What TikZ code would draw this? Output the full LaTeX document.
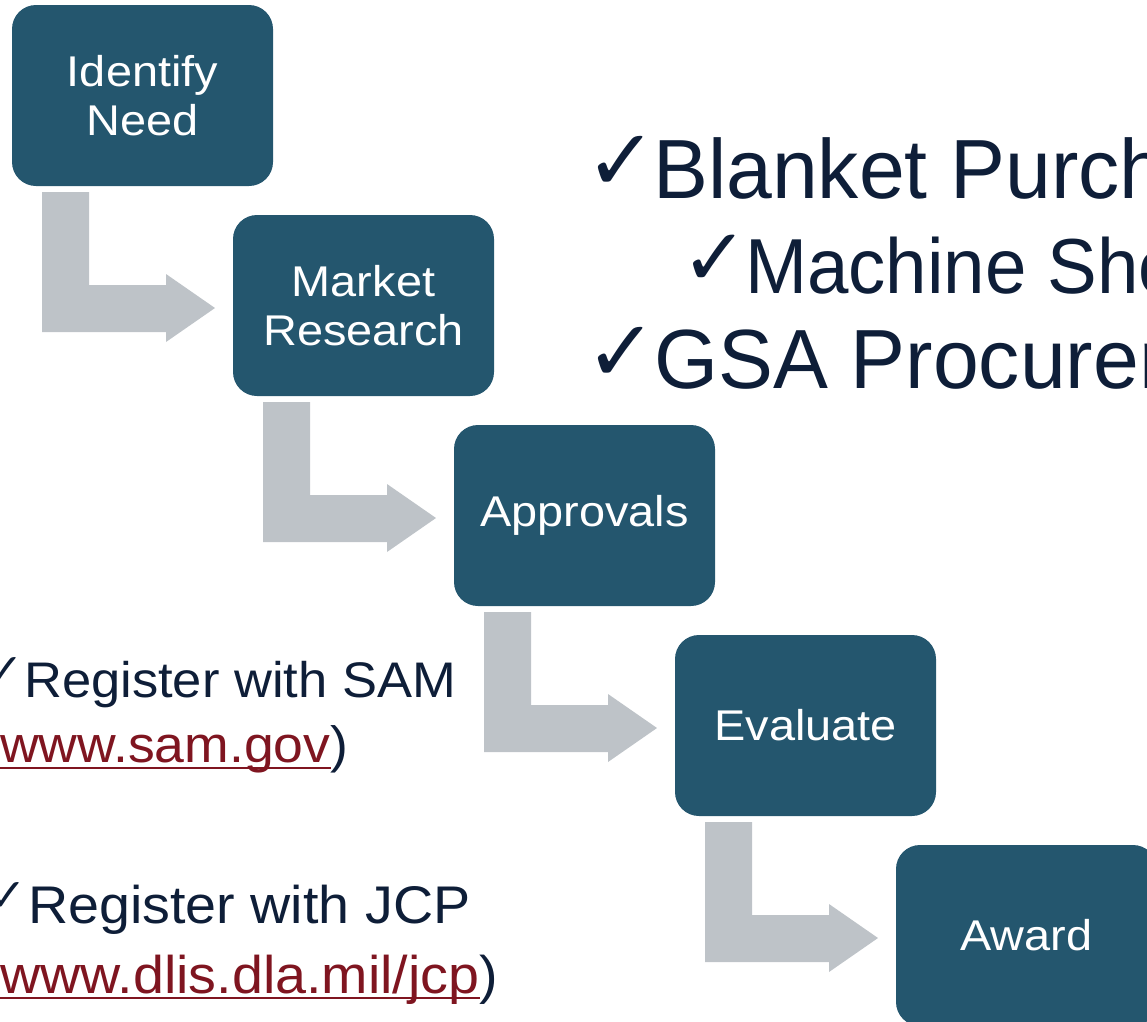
\documentclass[tikz,border=0pt]{standalone}
\usepackage{fontspec}
\setmainfont{Liberation Sans}
\newfontfamily\fBox[FakeStretch=1.09]{Liberation Sans}
\newfontfamily\fBig[FakeStretch=0.98]{Liberation Sans}
\newfontfamily\fMid[FakeStretch=0.955]{Liberation Sans}
\newfontfamily\fLeft[FakeStretch=1.05]{Liberation Sans}
\newfontfamily\fChk{DejaVu Sans}
\usetikzlibrary{calc}
\definecolor{boxblue}{HTML}{24566E}
\definecolor{arrowgray}{HTML}{BEC3C8}
\definecolor{navy}{HTML}{0E1E38}
\definecolor{linkred}{HTML}{7F1520}
\tikzset{
  stepbox/.style={rounded corners=24pt, fill=boxblue, draw=none, minimum width=261pt,
    minimum height=181pt, inner sep=0pt, outer sep=0pt, text=white, align=center,
    font=\fBox\fontsize{43}{49}\selectfont},
  bentarrow/.style={fill=arrowgray, draw=none},
  bigtxt/.style={anchor=base west, inner sep=0pt, text=navy, font=\fBig\fontsize{84}{90}\selectfont},
  midtxt/.style={anchor=base west, inner sep=0pt, text=navy, font=\fMid\fontsize{78}{84}\selectfont},
  bigchk/.style={anchor=base west, inner sep=0pt, text=navy, font=\fChk\bfseries\fontsize{86}{90}\selectfont},
  midchk/.style={anchor=base west, inner sep=0pt, text=navy, font=\fChk\bfseries\fontsize{80}{84}\selectfont},
  smallchk/.style={anchor=base east, inner sep=0pt, text=navy, font=\fChk\fontsize{46}{50}\selectfont},
  samtxt/.style={anchor=base west, inner sep=0pt, text=navy, font=\fLeft\fontsize{50}{56}\selectfont},
  samlink/.style={anchor=base west, inner sep=0pt, text=linkred, font=\fLeft\fontsize{51}{56}\selectfont},
  jcptxt/.style={anchor=base west, inner sep=0pt, text=navy, font=\fLeft\fontsize{53}{58}\selectfont},
  jcplink/.style={anchor=base west, inner sep=0pt, text=linkred, font=\fLeft\fontsize{53}{58}\selectfont},
  ulink/.style={draw=linkred, line width=2.6pt}
}
\begin{document}
\begin{tikzpicture}[x=1pt, y=-1pt]
\useasboundingbox (0,0) rectangle (1147,1021);
\clip (0,0) rectangle (1147,1021);

% process boxes
\node[stepbox] (b1) at (142.5,95.5) {Identify\\Need};
\node[stepbox] (b2) at (363.5,305.5) {Market\\Research};
\node[stepbox] (b3) at (584.5,515.5) {Approvals};
\node[stepbox] (b4) at (805.5,725.5) {Evaluate};
\node[stepbox] (b5) at (1026.5,935.5) {Award};

% bent arrows between boxes
\foreach \a in {1,2,3,4}{
  \fill[bentarrow]
    ($(b\a.south west)+(30,6)$) -- ($(b\a.south west)+(77,6)$) --
    ($(b\a.south west)+(77,99)$) -- ($(b\a.south west)+(154,99)$) --
    ($(b\a.south west)+(154,88)$) -- ($(b\a.south west)+(203,122)$) --
    ($(b\a.south west)+(154,156)$) -- ($(b\a.south west)+(154,146)$) --
    ($(b\a.south west)+(30,146)$) -- cycle;
}

% right bullet list
\node[bigchk] (c1) at (585,190) {✓};
\node[bigtxt] (t1) at (653,198) {Blanket Purchase};
\node[midchk] (c2) at (681,285) {✓};
\node[midtxt] (t2) at (745,293) {Machine Shop};
\node[bigchk] (c3) at (585,381) {✓};
\node[bigtxt] (t3) at (654,388) {GSA Procurement};

% left registration items
\node[smallchk] (c4) at (24,686) {✓};
\node[samtxt] (t4) at (24,697) {Register with SAM};
\node[samlink, text=navy, anchor=base east] (p1) at (0,762) {(};
\node[samlink] (l1) at (0,762) {www.sam.gov};
\node[samlink, text=navy] (q1) at (l1.base east) {)};
\draw[ulink] ($(l1.base west)+(0,6)$) -- ($(l1.base east)+(0,6)$);

\node[smallchk] (c5) at (27,911) {✓};
\node[jcptxt] (t5) at (28,923) {Register with JCP};
\node[jcptxt, anchor=base east] (p2) at (0,993) {(};
\node[jcplink] (l2) at (0,993) {www.dlis.dla.mil/jcp};
\node[jcptxt] (q2) at (l2.base east) {)};
\draw[ulink] ($(l2.base west)+(0,5)$) -- ($(l2.base east)+(0,5)$);
\end{tikzpicture}
\end{document}
